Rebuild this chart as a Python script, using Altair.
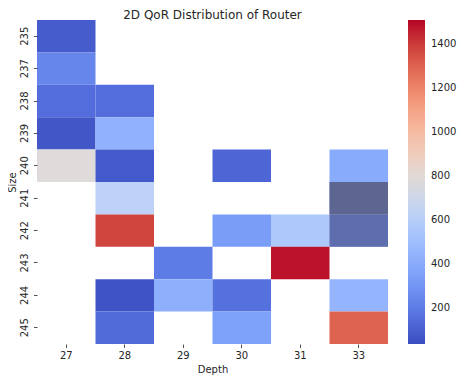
import altair as alt
import pandas as pd

# ---- data ----
chart_title = '2D QoR Distribution of Router'
depths = [27, 28, 29, 30, 31, 33]
sizes = [235, 237, 238, 239, 240, 241, 242, 243, 244, 245]

cell_depth = [27, 27, 27, 28, 27, 28, 27, 28, 30, 33, 28, 33,
              28, 30, 31, 33, 29, 31, 28, 29, 30, 33, 28, 30, 33]
cell_size = [235, 237, 238, 238, 239, 239, 240, 240, 240, 240, 241, 241,
             242, 242, 242, 242, 243, 243, 244, 244, 244, 244, 245, 245, 245]
cell_qor = [90, 240, 150, 150, 70, 430, 780, 80, 120, 400, 630, 100,
            1380, 330, 560, 150, 200, 1480, 60, 420, 160, 450, 140, 350, 1300]

# cells drawn with a dense grey hatch in the reference
hatch_depth = [33, 33]
hatch_size = [241, 242]
hatch_alpha = [0.62, 0.42]

# colour bar range and the coolwarm colormap
vmin, vmax = 36, 1509
cw_colors = ['#3b4cc0', '#5a78e4', '#7a9df8', '#9abbff', '#bcd2f7', '#dddcdc',
             '#f2cbb7', '#f7ad90', '#ec8165', '#d44e41', '#b40426']
cw_stops = [vmin + (vmax - vmin) * i / 10 for i in range(11)]
legend_ticks = [200, 400, 600, 800, 1000, 1200, 1400]

df = pd.DataFrame({'Depth': cell_depth, 'Size': cell_size, 'QoR': cell_qor})
hf = pd.DataFrame({'Depth': hatch_depth, 'Size': hatch_size, 'alpha': hatch_alpha})
tf = pd.DataFrame({'t': [chart_title]})

TXT = '#262626'
FONT = 'DejaVu Sans'
W, H = 351, 324

xenc = alt.X('Depth:O', title='Depth',
             scale=alt.Scale(domain=depths, paddingInner=0, paddingOuter=0),
             axis=alt.Axis(labelAngle=0, domain=False, tickSize=3.5, tickWidth=0.8,
                           tickColor=TXT, labelColor=TXT, titleColor=TXT,
                           labelFontSize=10, titleFontSize=10, titleFontWeight='normal',
                           labelFont=FONT, titleFont=FONT, labelPadding=2.5, titlePadding=4))
yenc = alt.Y('Size:O', title='Size',
             scale=alt.Scale(domain=sizes, paddingInner=0, paddingOuter=0),
             axis=alt.Axis(labelAngle=270, labelAlign='center', labelBaseline='bottom',
                           domain=False, tickSize=3.5, tickWidth=0.8,
                           tickColor=TXT, labelColor=TXT, titleColor=TXT,
                           labelFontSize=10, titleFontSize=10, titleFontWeight='normal',
                           labelFont=FONT, titleFont=FONT, labelPadding=4, titlePadding=2))

heat = alt.Chart(df).mark_rect().encode(
    x=xenc, y=yenc,
    color=alt.Color('QoR:Q',
                    scale=alt.Scale(domain=cw_stops, range=cw_colors, interpolate='rgb'),
                    legend=alt.Legend(orient='none', legendX=371, legendY=0,
                                      direction='vertical', title=None, format='d',
                                      gradientLength=H, gradientThickness=17,
                                      gradientStrokeWidth=0, values=legend_ticks,
                                      labelFontSize=10, labelFont=FONT, labelColor=TXT,
                                      labelOffset=6, labelOverlap=False, padding=0))
)

hatch = alt.Chart(hf).mark_rect(color='#6b6b6b').encode(
    x=alt.X('Depth:O'), y=alt.Y('Size:O'),
    opacity=alt.Opacity('alpha:Q', scale=None, legend=None)
)

title_mark = alt.Chart(tf).mark_text(
    fontSize=12, font=FONT, color=TXT, align='center', baseline='middle'
).encode(text='t:N', x=alt.value(W / 2), y=alt.value(-5.5))

chart = alt.layer(heat, hatch, title_mark).properties(
    width=W, height=H,
    autosize=alt.AutoSizeParams(type='none'),
    padding={'left': 29, 'top': 12, 'right': 450 - 29 - W, 'bottom': 368 - 12 - H},
).configure(background='white').configure_view(stroke=None)

chart.save('out.html', embed_options={'renderer': 'svg', 'actions': False})
